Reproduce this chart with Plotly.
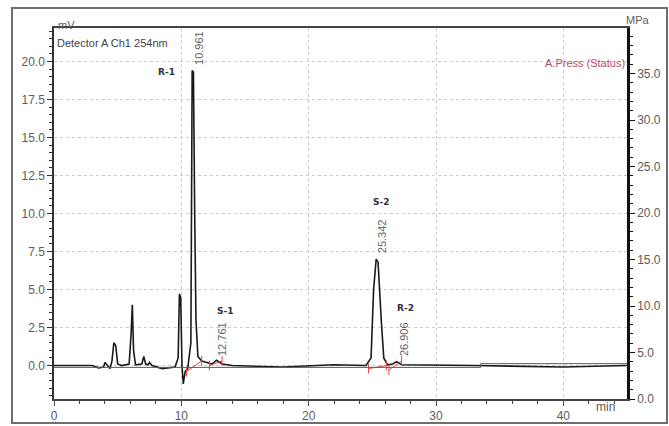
import plotly.graph_objects as go

# Chromatogram (Detector A Ch1 254nm), time in min, signal in mV
time_min = [0.0, 3.0, 3.5, 3.9, 4.0, 4.2, 4.4, 4.55, 4.7, 4.85, 5.0, 5.3, 5.9, 6.05, 6.15, 6.25, 6.4,
            6.9, 7.05, 7.2, 7.4, 7.5, 7.7, 8.5, 9.5, 9.75, 9.85, 9.95, 10.05, 10.15, 10.3, 10.5,
            10.75, 10.85, 10.95, 11.05, 11.15, 11.3, 11.6, 12.0, 12.4, 12.76, 13.2, 14.0, 18.0,
            22.0, 24.5, 24.9, 25.1, 25.3, 25.45, 25.7, 25.9, 26.2, 26.6, 26.9, 27.3, 33.0, 40.0, 45.0]
signal_mv = [0.0, 0.0, -0.15, -0.1, 0.2, 0.0, -0.2, 0.3, 1.5, 1.3, 0.1, 0.0, 0.1, 2.0, 4.0, 1.0, 0.05,
             0.1, 0.6, 0.1, 0.05, 0.2, 0.0, -0.2, -0.1, 0.5, 4.7, 4.5, 0.0, -1.2, -0.4, -0.2,
             1.5, 19.4, 19.3, 10.0, 3.0, 0.6, 0.3, 0.2, 0.1, 0.35, 0.1, 0.0, -0.1,
             0.05, 0.0, 0.5, 5.0, 7.0, 6.8, 3.0, 0.5, 0.05, 0.1, 0.25, 0.05, 0.0, -0.1, 0.0]

# Pump pressure (A.Press status), MPa
press_time = [0.0, 33.5, 33.5, 45.0]
press_mpa = [3.4, 3.4, 3.8, 3.8]

# Integration baselines
base_time = [10.4, 11.6, None, 12.2, 13.2, None, 24.7, 26.1, None, 26.3, 27.3]
base_mv = [-0.4, 0.3, None, 0.0, 0.3, None, -0.2, 0.0, None, -0.3, 0.3]

# Peak annotations
peak_names = ["R-1", "S-1", "S-2", "R-2"]
peak_rt = ["10.961", "12.761", "25.342", "26.906"]
name_x = [8.8, 13.4, 25.7, 27.6]
name_y = [19.3, 3.6, 10.75, 3.8]
rt_x = [11.4, 13.2, 25.75, 27.5]
rt_y = [20.9, 1.75, 8.5, 1.75]

GRAY = "#5c5c5c"
FONT = "Arial, Liberation Sans, sans-serif"

fig = go.Figure()
fig.add_trace(go.Scatter(x=press_time, y=press_mpa, yaxis="y2", mode="lines",
                         line=dict(color="#5a5a5a", width=1), showlegend=False, hoverinfo="skip"))
fig.add_trace(go.Scatter(x=time_min, y=signal_mv, mode="lines",
                         line=dict(color="#1a1a1a", width=1.6), showlegend=False))
fig.add_trace(go.Scatter(x=base_time, y=base_mv, mode="lines+markers",
                         line=dict(color="#e04848", width=1),
                         marker=dict(symbol="line-ns-open", size=7, color="#e04848", line=dict(width=1, color="#e04848")),
                         showlegend=False, hoverinfo="skip"))

for n, nx, ny in zip(peak_names, name_x, name_y):
    fig.add_annotation(x=nx, y=ny, text="<b>" + n + "</b>", showarrow=False,
                       font=dict(family="DejaVu Sans", size=9, color="#333333"))
for t, tx, ty in zip(peak_rt, rt_x, rt_y):
    fig.add_annotation(x=tx, y=ty, text=t, showarrow=False, textangle=-90,
                       font=dict(family=FONT, size=11, color="#666666"))

# axis titles & headers (paper coords)
def px2x(px):
    return (px - 54) / 573.0

def py2y(py):
    return (399 - py) / 371.0

fig.add_annotation(xref="paper", yref="paper", x=px2x(56), y=py2y(17), text="mV", showarrow=False,
                   font=dict(family=FONT, size=11, color=GRAY))
fig.add_annotation(xref="paper", yref="paper", x=px2x(55), y=py2y(35), xanchor="left",
                   text="Detector A Ch1 254nm", showarrow=False,
                   font=dict(family=FONT, size=11, color="#444444"))
fig.add_annotation(xref="paper", yref="paper", x=px2x(652), y=py2y(12), text="MPa", showarrow=False,
                   font=dict(family=FONT, size=11, color=GRAY))
fig.add_annotation(xref="paper", yref="paper", x=px2x(627), y=py2y(55), xanchor="right",
                   text="A.Press (Status)", showarrow=False,
                   font=dict(family=FONT, size=11, color="#b84a6a"))
fig.add_annotation(xref="paper", yref="paper", x=px2x(617), y=py2y(416), text="min", showarrow=False,
                   font=dict(family=FONT, size=12, color=GRAY))

# outer frame
fig.add_shape(type="rect", xref="paper", yref="paper", x0=px2x(12), x1=px2x(667), y0=py2y(423), y1=py2y(8),
              line=dict(color="#6e6e6e", width=2), layer="below")

fig.update_layout(
    width=669, height=426,
    margin=dict(l=54, r=42, t=28, b=27, autoexpand=False),
    paper_bgcolor="white", plot_bgcolor="white",
    font=dict(family=FONT, size=12, color=GRAY),
    xaxis=dict(range=[0, 45], tickmode="linear", tick0=0, dtick=10, automargin=False,
               showgrid=True, gridcolor="#cccccc", griddash="dot", gridwidth=1,
               zeroline=False, showline=True, linecolor="#444444", linewidth=1.5, mirror=True,
               ticks="outside", ticklen=5, tickcolor="#444444",
               minor=dict(dtick=2, ticks="outside", ticklen=3, tickcolor="#444444", showgrid=False),
               tickfont=dict(size=12, color=GRAY)),
    yaxis=dict(range=[-2.2, 22.2], tickmode="linear", tick0=0, dtick=2.5, tickformat=".1f", automargin=False,
               showgrid=True, gridcolor="#cccccc", griddash="dot", gridwidth=1,
               zeroline=False, showline=True, linecolor="#333333", linewidth=1.5,
               ticks="outside", ticklen=5, tickcolor="#333333",
               minor=dict(dtick=0.5, ticks="outside", ticklen=3, tickcolor="#333333", showgrid=False),
               tickfont=dict(size=12, color=GRAY)),
    yaxis2=dict(range=[0, 39.9], overlaying="y", side="right", tickmode="linear", tick0=0, dtick=5,
                tickformat=".1f", showgrid=False, zeroline=False, automargin=False,
                showline=True, linecolor="#111111", linewidth=2.5,
                ticks="outside", ticklen=5, tickcolor="#111111",
                minor=dict(dtick=1, ticks="outside", ticklen=3, tickcolor="#111111"),
                tickfont=dict(size=12, color=GRAY)),
)

fig.write_html("out.html", config={"displayModeBar": False},
               post_script="document.body.style.margin='0';document.body.style.overflow='hidden';")
